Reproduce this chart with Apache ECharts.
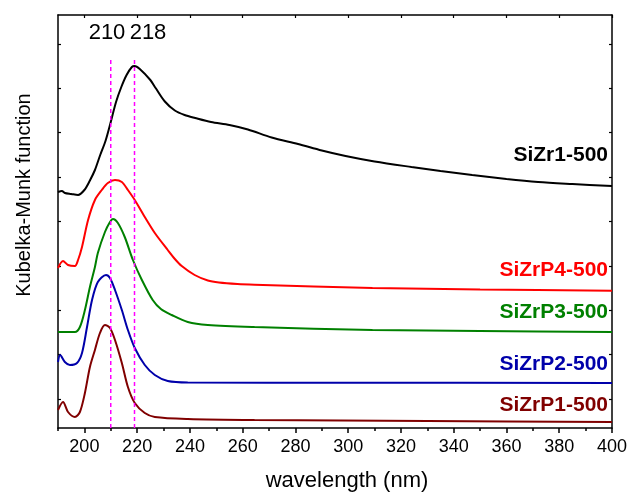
<!DOCTYPE html>
<html>
<head>
<meta charset="utf-8">
<script src="https://cdn.jsdelivr.net/npm/echarts@6/dist/echarts.min.js"></script>
<style>html,body{margin:0;padding:0;background:#fff;}#c{width:630px;height:492px;}</style>
</head>
<body>
<div id="c"></div>
<script>
// wavelength (nm), Kubelka-Munk (arbitrary, offset-stacked units)
var sizr1 = [[190,236],[191.5,237],[192.6,235],[195,234],[197.6,233],[200,238],[202,247],[204,258],[206,273],[208,287],[210,306],[212,326],[214,341],[216,353],[218,361],[219,362],[221,359],[225,348],[227,340],[230.5,326.5],[234.3,317.5],[238,313],[242,310],[248,306],[255,303],[262,298.5],[271,290.5],[281,284],[290,277.5],[299,272],[310,266.5],[324,261],[335,257],[347,253],[360,249],[372,246],[385,244],[400,242]];
var sizrp4 = [[190,160],[191.9,167],[193.8,163],[196.4,162],[197.6,168],[199.1,181],[201.4,208],[204,228],[206.6,238],[208.9,245],[211.6,248],[214.2,246],[216.5,238],[219.1,228],[222.9,211],[226.7,195],[231.6,178],[234.3,169],[236.9,162],[241.8,153],[246.8,147.5],[251,145.5],[258,144],[264.5,143.3],[309.2,140],[350,138.5],[400,137.3]];
var sizrp3 = [[190,96],[191.5,96],[196.4,96],[198.3,101],[200.2,118],[202.1,141],[204,161],[205.1,175],[207.8,196],[209.7,206],[210.8,209],[212.7,205],[215.3,191],[218.4,168],[221.8,148],[225.9,128],[229,119],[233.1,113],[239.2,106],[246.8,103],[264.5,101],[309.2,98],[350,97],[400,96]];
var sizrp2 = [[190,66],[190.8,73],[192.6,66],[194.5,63],[197.2,65],[199.1,75],[201,101],[202.9,128],[205.1,146],[208.2,153],[209.7,150],[211.6,138],[214.2,118],[216.5,98],[219.1,80],[222.9,63],[226.7,53],[231.6,47],[239.2,45.5],[300,45.3],[400,45]];
var sizrp1 = [[190,18],[191.9,26],[193.8,16],[196.4,11],[198.3,16],[200.2,35],[202.1,61],[204,78],[205.9,95],[207.8,103],[209.7,100],[211.6,88],[214.2,65],[216.5,41],[219.1,25],[222.9,15],[226.7,11],[239.2,9],[264.5,8],[330,7],[400,6]];
var seriesNames = ['SiZr1-500','SiZrP4-500','SiZrP3-500','SiZrP2-500','SiZrP1-500'];
var seriesColors = ['#000000','#ff0000','#008000','#0000aa','#800000'];
var vlineX = [210, 219];
var vlineLabels = ['210', '218'];
var vlineTop = 371;
var xMajorTicks = [200,220,240,260,280,300,320,340,360,380,400];
var xMinorTicks = [190,210,230,250,270,290,310,330,350,370,390];
var yTicks = [29,73.4,117.8,162.2,206.6,251,295.4,339.8,384.2];

var chart = echarts.init(document.getElementById('c'), null, {renderer:'canvas'});
var FONT = 'Liberation Sans, Arial, sans-serif';
var axisLine = {show:true, lineStyle:{color:'#000', width:1.5}};
var dataSets = [sizr1, sizrp4, sizrp3, sizrp2, sizrp1];
var series = dataSets.map(function(d,i){
  return {type:'line', name:seriesNames[i], data:d, xAxisIndex:0, yAxisIndex:0, showSymbol:false, symbol:'none',
    smooth:0.3, lineStyle:{color:seriesColors[i], width:2}, z:3, silent:true};
});
vlineX.forEach(function(x){
  series.push({type:'line', data:[[x,0],[x,vlineTop]], xAxisIndex:0, yAxisIndex:0, showSymbol:false, symbol:'none',
    lineStyle:{color:'#ff00ff', width:1.5, type:[4,3]}, z:4, silent:true});
});
var labelY = [155, 270, 312, 364, 405];
var graphics = [];
seriesNames.forEach(function(n,i){
  graphics.push({type:'text', x:608, y:labelY[i], style:{text:n, fill:seriesColors[i], font:'bold 21px '+FONT, textAlign:'right', textVerticalAlign:'middle'}});
});
var vlabelX = [107, 148];
vlineLabels.forEach(function(t,i){
  graphics.push({type:'text', x:vlabelX[i], y:33, style:{text:t, fill:'#000', font:'22px '+FONT, textAlign:'center', textVerticalAlign:'middle'}});
});
graphics.push({type:'text', x:347, y:481, style:{text:'wavelength (nm)', fill:'#000', font:'22px '+FONT, textAlign:'center', textVerticalAlign:'middle'}});
graphics.push({type:'text', x:24, y:195, rotation:Math.PI/2, style:{text:'Kubelka-Munk function', fill:'#000', font:'20px '+FONT, textAlign:'center', textVerticalAlign:'middle'}});

chart.setOption({
  animation:false,
  backgroundColor:'#fff',
  grid:{left:58, right:17, top:15, bottom:64, containLabel:false},
  xAxis:[
    {type:'value', min:190, max:400, position:'bottom', axisLine:axisLine, splitLine:{show:false},
     axisTick:{show:true, length:5, lineStyle:{color:'#000', width:1.5}, customValues:xMajorTicks},
     axisLabel:{show:true, customValues:xMajorTicks, color:'#000', fontSize:18, fontFamily:FONT, margin:10}},
    {type:'value', min:190, max:400, position:'bottom', axisLine:{show:false}, splitLine:{show:false},
     axisTick:{show:true, length:3, lineStyle:{color:'#000', width:1.5}, customValues:xMinorTicks},
     axisLabel:{show:false}},
    {type:'value', min:190, max:400, position:'top', axisLine:axisLine, splitLine:{show:false},
     axisTick:{show:true, inside:true, length:3, lineStyle:{color:'#000', width:1.2}, customValues:xMajorTicks},
     axisLabel:{show:false}}
  ],
  yAxis:[
    {type:'value', min:0, max:413, position:'left', axisLine:axisLine, splitLine:{show:false},
     axisTick:{show:true, inside:true, length:3, lineStyle:{color:'#000', width:1.2}, customValues:yTicks},
     axisLabel:{show:false}},
    {type:'value', min:0, max:413, position:'right', axisLine:axisLine, splitLine:{show:false},
     axisTick:{show:true, inside:true, length:3, lineStyle:{color:'#000', width:1.2}, customValues:yTicks},
     axisLabel:{show:false}}
  ],
  series:series,
  graphic:graphics
});
</script>
</body>
</html>
